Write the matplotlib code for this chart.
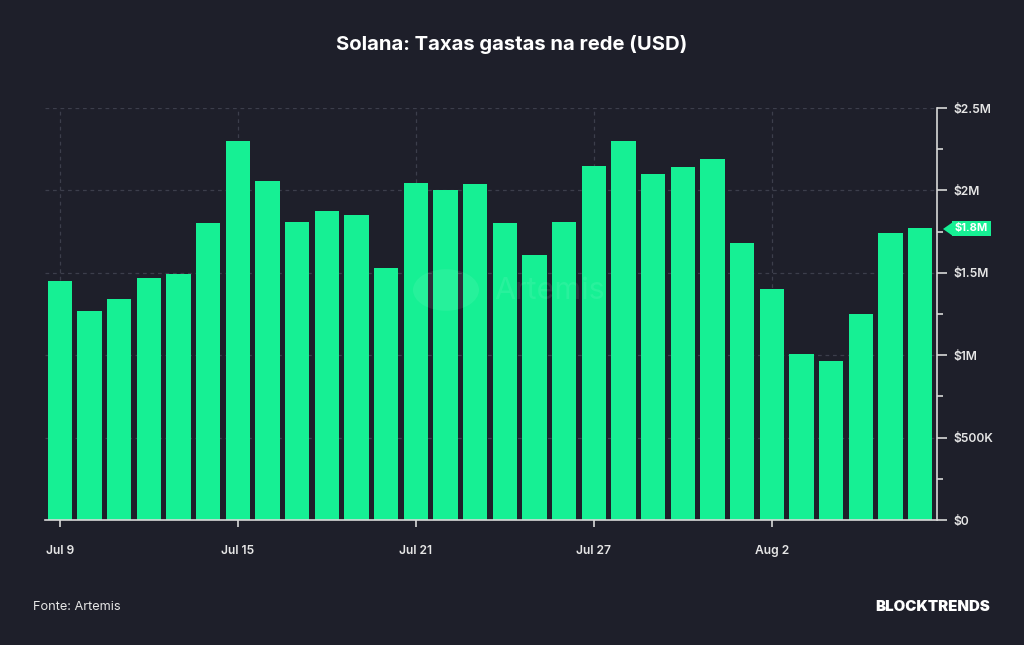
import numpy as np
import matplotlib.pyplot as plt
from matplotlib.patches import Circle, Polygon
from matplotlib.ticker import MultipleLocator, FuncFormatter

plt.rcParams['font.family'] = ['Inter', 'DejaVu Sans']

# dados (USD, milhões)
dias = ["Jul 9", "Jul 10", "Jul 11", "Jul 12", "Jul 13", "Jul 14", "Jul 15", "Jul 16",
        "Jul 17", "Jul 18", "Jul 19", "Jul 20", "Jul 21", "Jul 22", "Jul 23", "Jul 24",
        "Jul 25", "Jul 26", "Jul 27", "Jul 28", "Jul 29", "Jul 30", "Jul 31", "Aug 1",
        "Aug 2", "Aug 3", "Aug 4", "Aug 5", "Aug 6", "Aug 7"]
taxas = [1.45, 1.27, 1.34, 1.47, 1.49, 1.80, 2.30, 2.06, 1.81, 1.875,
         1.85, 1.53, 2.045, 2.00, 2.04, 1.80, 1.61, 1.81, 2.15, 2.30,
         2.10, 2.14, 2.19, 1.68, 1.40, 1.01, 0.965, 1.25, 1.74, 1.77]
rotulos_x = ["Jul 9", "Jul 15", "Jul 21", "Jul 27", "Aug 2"]

fundo = "#1e1f2a"
verde = "#16f094"

fig = plt.figure(figsize=(10.24, 6.45), dpi=100, facecolor=fundo)
ax = fig.add_axes([45/1024, 125/645, 892/1024, 412/645], facecolor=fundo)

x = np.arange(len(dias))
ax.bar(x, taxas, width=0.82, color=verde, zorder=2)

ax.set_xlim(-0.5, len(dias) - 0.43)
ax.set_ylim(0, 2.5)

pos_x = [dias.index(d) for d in rotulos_x]
ax.set_xticks(pos_x)
ax.set_xticklabels(rotulos_x)

ax.yaxis.tick_right()
ax.yaxis.set_major_locator(MultipleLocator(0.5))
ax.yaxis.set_minor_locator(MultipleLocator(0.25))

def fmt(v, pos):
    if v == 0:
        return "$0"
    if v < 1:
        return "${:.0f}K".format(v * 1000)
    return "${:g}M".format(v)

ax.yaxis.set_major_formatter(FuncFormatter(fmt))

for s in ["top", "left"]:
    ax.spines[s].set_visible(False)
for s in ["bottom", "right"]:
    ax.spines[s].set_color("#d8d8d8")
    ax.spines[s].set_linewidth(1.2)

ax.tick_params(axis="y", which="major", length=7, width=1.2, color="#d8d8d8",
               labelcolor="#e6e6e6", labelsize=8.7, pad=5)
ax.tick_params(axis="y", which="minor", length=4, width=1.2, color="#d8d8d8")
ax.tick_params(axis="x", length=5, width=1.2, color="#d8d8d8",
               labelcolor="#e6e6e6", labelsize=8.7, pad=13)
for t in ax.get_xticklabels() + ax.get_yticklabels():
    t.set_fontweight("semibold")

ax.grid(True, which="major", color="#3c3e4b", linestyle=(0, (3, 3)), linewidth=0.9, zorder=0)
ax.set_axisbelow(True)

# rótulo do último valor
ultimo = taxas[-1]
ax.annotate("$1.8M", xy=(1.0, ultimo), xycoords=("axes fraction", "data"),
            xytext=(13, 0), textcoords="offset points", ha="left", va="center",
            fontsize=8, fontweight="bold", color="white", annotation_clip=False,
            bbox=dict(boxstyle="square,pad=0.25", fc=verde, ec="none"))
seta = Polygon([[943/1024, (645-229)/645], [953/1024, (645-222)/645], [953/1024, (645-236)/645]],
               closed=True, transform=fig.transFigure, fc=verde, ec="none")
fig.patches.append(seta)

# marca d'água
fig.patches.append(Circle((446/1024, (645-290)/645), 33/1024, transform=fig.transFigure,
                          fc="white", alpha=0.07, ec="none"))
fig.text(494/1024, (645-291)/645, "Artemis", color="white", alpha=0.08, fontsize=22,
         ha="left", va="center")

fig.text(0.5, (645-45)/645, "Solana: Taxas gastas na rede (USD)", color="white",
         fontsize=14.6, fontweight="bold", ha="center", va="center")
fig.text(33/1024, (645-607)/645, "Fonte: Artemis", color="#e6e6e6", fontsize=9.2,
         ha="left", va="center")
fig.text(990/1024, (645-607)/645, "BLOCKTRENDS", color="white", fontsize=10.8,
         fontweight="black", ha="right", va="center")

fig.savefig("out.png", dpi=100, facecolor=fundo)
